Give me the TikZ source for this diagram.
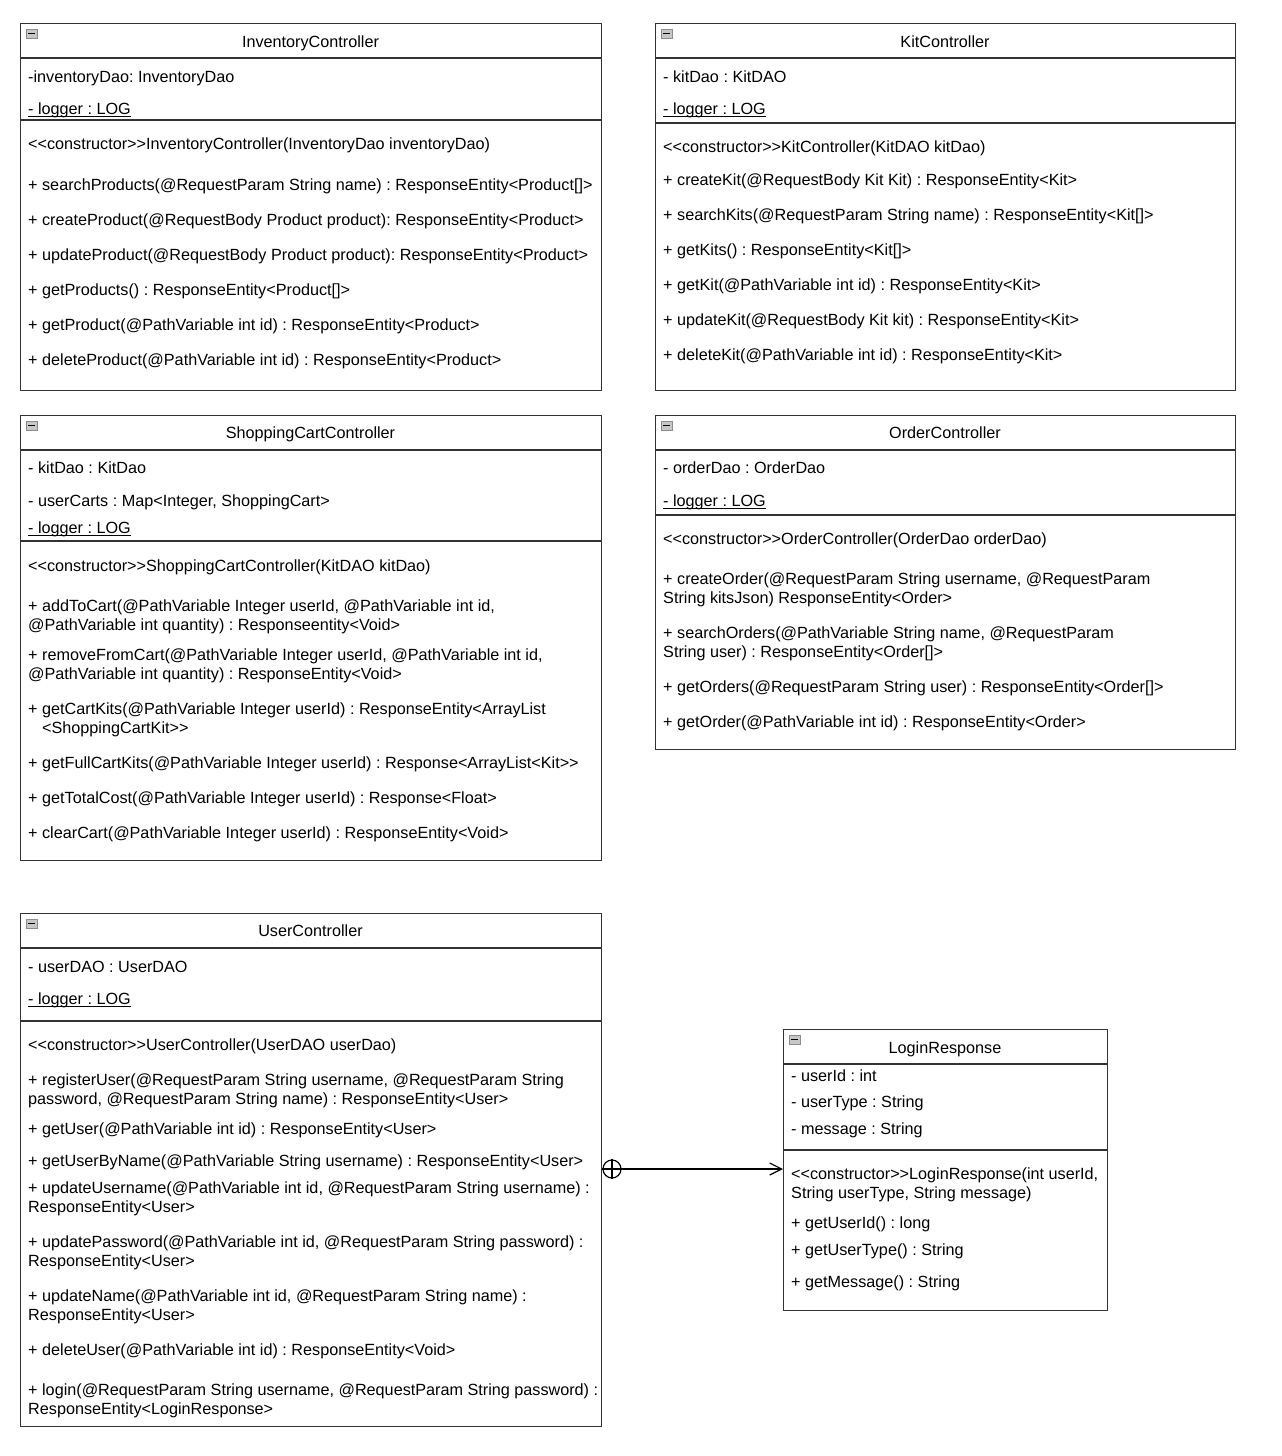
\documentclass[tikz,border=0pt]{standalone}
\usepackage{fontspec}
\setmainfont{Liberation Sans}
\usetikzlibrary{arrows.meta}
\frenchspacing

% small collapse icon in the corner of a class box
\newcommand{\foldicon}[2]{%
  \draw[fill=black!22, draw=black!45, line width=0.8pt] (#1,#2) rectangle +(11,9);
  \draw[line width=1.4pt] (#1+2,#2+4.5) -- +(7,0);
}
% static member: underline close to the baseline
\newcommand{\statmemb}[1]{\setbox0\hbox{#1}\rlap{\rule[-2.5pt]{\wd0}{1pt}}\box0}

\begin{document}
\begin{tikzpicture}[x=1pt, y=-1pt,
  classbox/.style={draw=black!80, line width=1.2pt, rectangle, inner sep=0pt, anchor=north west},
  divline/.style={draw=black!80, line width=1.2pt},
  ttl/.style={font=\fontsize{16.2}{19}\selectfont, inner sep=0pt, anchor=base},
  memb/.style={font=\fontsize{16.2}{19}\selectfont, inner sep=0pt, anchor=base west}]

\useasboundingbox (0,0) rectangle (1282,1456);

% InventoryController
\node[classbox, minimum width=581, minimum height=367] (inv) at (20,23) {};
\draw[divline] (20,58) -- (601,58);
\draw[divline] (20,120) -- (601,120);
\foldicon{26}{29}
\node[ttl] (inv-title) at (310.5,47) {InventoryController};
\foreach \yy/\txt [count=\i] in {
  76/{-inventoryDao: InventoryDao},
  108/{\statmemb{- logger : LOG}},
  143/{<{}<constructor>{}>InventoryController(InventoryDao inventoryDao)},
  184/{+ searchProducts(@RequestParam String name) : ResponseEntity<Product[]>},
  219/{+ createProduct(@RequestBody Product product): ResponseEntity<Product>},
  254/{+ updateProduct(@RequestBody Product product): ResponseEntity<Product>},
  289/{+ getProducts() : ResponseEntity<Product[]>},
  324/{+ getProduct(@PathVariable int id) : ResponseEntity<Product>},
  359/{+ deleteProduct(@PathVariable int id) : ResponseEntity<Product>}}
  \node[memb] (inv-\i) at (28,\yy+6) {\txt};

% KitController
\node[classbox, minimum width=580, minimum height=367] (kit) at (655,23) {};
\draw[divline] (655,58) -- (1235,58);
\draw[divline] (655,123) -- (1235,123);
\foldicon{661}{29}
\node[ttl] (kit-title) at (945,47) {KitController};
\foreach \yy/\txt [count=\i] in {
  76/{- kitDao : KitDAO},
  108/{\statmemb{- logger : LOG}},
  146/{<{}<constructor>{}>KitController(KitDAO kitDao)},
  179/{+ createKit(@RequestBody Kit Kit) : ResponseEntity<Kit>},
  214/{+ searchKits(@RequestParam String name) : ResponseEntity<Kit[]>},
  249/{+ getKits() : ResponseEntity<Kit[]>},
  284/{+ getKit(@PathVariable int id) : ResponseEntity<Kit>},
  319/{+ updateKit(@RequestBody Kit kit) : ResponseEntity<Kit>},
  354/{+ deleteKit(@PathVariable int id) : ResponseEntity<Kit>}}
  \node[memb] (kit-\i) at (663,\yy+6) {\txt};

% ShoppingCartController
\node[classbox, minimum width=581, minimum height=445] (cart) at (20,415) {};
\draw[divline] (20,450) -- (601,450);
\draw[divline] (20,541) -- (601,541);
\foldicon{26}{421}
\node[ttl] (cart-title) at (310.5,438) {ShoppingCartController};
\foreach \yy/\txt [count=\i] in {
  467/{- kitDao : KitDao},
  500/{- userCarts : Map<Integer, ShoppingCart>},
  527/{\statmemb{- logger : LOG}},
  565/{<{}<constructor>{}>ShoppingCartController(KitDAO kitDao)},
  605/{+ addToCart(@PathVariable Integer userId, @PathVariable int id,},
  624/{@PathVariable int quantity) : Responseentity<Void>},
  654/{+ removeFromCart(@PathVariable Integer userId, @PathVariable int id,},
  673/{@PathVariable int quantity) : ResponseEntity<Void>},
  708/{+ getCartKits(@PathVariable Integer userId) : ResponseEntity<ArrayList},
  727/{\hspace*{14pt}<ShoppingCartKit>{}>},
  762/{+ getFullCartKits(@PathVariable Integer userId) : Response<ArrayList<Kit>{}>},
  797/{+ getTotalCost(@PathVariable Integer userId) : Response<Float>},
  832/{+ clearCart(@PathVariable Integer userId) : ResponseEntity<Void>}}
  \node[memb] (cart-\i) at (28,\yy+6) {\txt};

% OrderController
\node[classbox, minimum width=580, minimum height=334] (ord) at (655,415) {};
\draw[divline] (655,450) -- (1235,450);
\draw[divline] (655,515) -- (1235,515);
\foldicon{661}{421}
\node[ttl] (ord-title) at (945,438) {OrderController};
\foreach \yy/\txt [count=\i] in {
  467/{- orderDao : OrderDao},
  500/{\statmemb{- logger : LOG}},
  538/{<{}<constructor>{}>OrderController(OrderDao orderDao)},
  578/{+ createOrder(@RequestParam String username, @RequestParam},
  597/{String kitsJson) ResponseEntity<Order>},
  632/{+ searchOrders(@PathVariable String name, @RequestParam},
  651/{String user) : ResponseEntity<Order[]>},
  686/{+ getOrders(@RequestParam String user) : ResponseEntity<Order[]>},
  721/{+ getOrder(@PathVariable int id) : ResponseEntity<Order>}}
  \node[memb] (ord-\i) at (663,\yy+6) {\txt};

% UserController
\node[classbox, minimum width=581, minimum height=513] (usr) at (20,913) {};
\draw[divline] (20,948) -- (601,948);
\draw[divline] (20,1021) -- (601,1021);
\foldicon{26}{919}
\node[ttl] (usr-title) at (310.5,936) {UserController};
\foreach \yy/\txt [count=\i] in {
  966/{- userDAO : UserDAO},
  998/{\statmemb{- logger : LOG}},
  1044/{<{}<constructor>{}>UserController(UserDAO userDao)},
  1079/{+ registerUser(@RequestParam String username, @RequestParam String},
  1098/{password, @RequestParam String name) : ResponseEntity<User>},
  1128/{+ getUser(@PathVariable int id) : ResponseEntity<User>},
  1160/{+ getUserByName(@PathVariable String username) : ResponseEntity<User>},
  1187/{+ updateUsername(@PathVariable int id, @RequestParam String username) :},
  1206/{ResponseEntity<User>},
  1241/{+ updatePassword(@PathVariable int id, @RequestParam String password) :},
  1260/{ResponseEntity<User>},
  1295/{+ updateName(@PathVariable int id, @RequestParam String name) :},
  1314/{ResponseEntity<User>},
  1349/{+ deleteUser(@PathVariable int id) : ResponseEntity<Void>},
  1389/{+ login(@RequestParam String username, @RequestParam String password) :},
  1408/{ResponseEntity<LoginResponse>}}
  \node[memb] (usr-\i) at (28,\yy+6) {\txt};

% LoginResponse
\node[classbox, minimum width=324, minimum height=281] (lr) at (783,1029) {};
\draw[divline] (783,1064) -- (1107,1064);
\draw[divline] (783,1150) -- (1107,1150);
\foldicon{789}{1035}
\node[ttl] (lr-title) at (945,1053) {LoginResponse};
\foreach \yy/\txt [count=\i] in {
  1075/{- userId : int},
  1101/{- userType : String},
  1128/{- message : String},
  1173/{<{}<constructor>{}>LoginResponse(int userId,},
  1192/{String userType, String message)},
  1222/{+ getUserId() : long},
  1249/{+ getUserType() : String},
  1281/{+ getMessage() : String}}
  \node[memb] (lr-\i) at (791,\yy+6) {\txt};

% nesting: UserController owns LoginResponse
\node[draw, circle, line width=1.2pt, minimum size=18, inner sep=0pt] (own) at (612,1169) {};
\draw[line width=1.2pt] (own.north) -- (own.south) (own.west) -- (own.east);
\draw[line width=1.2pt, -{Straight Barb[length=12pt, width=12pt]}] (own.east) -- (lr.west |- own);

\end{tikzpicture}
\end{document}
